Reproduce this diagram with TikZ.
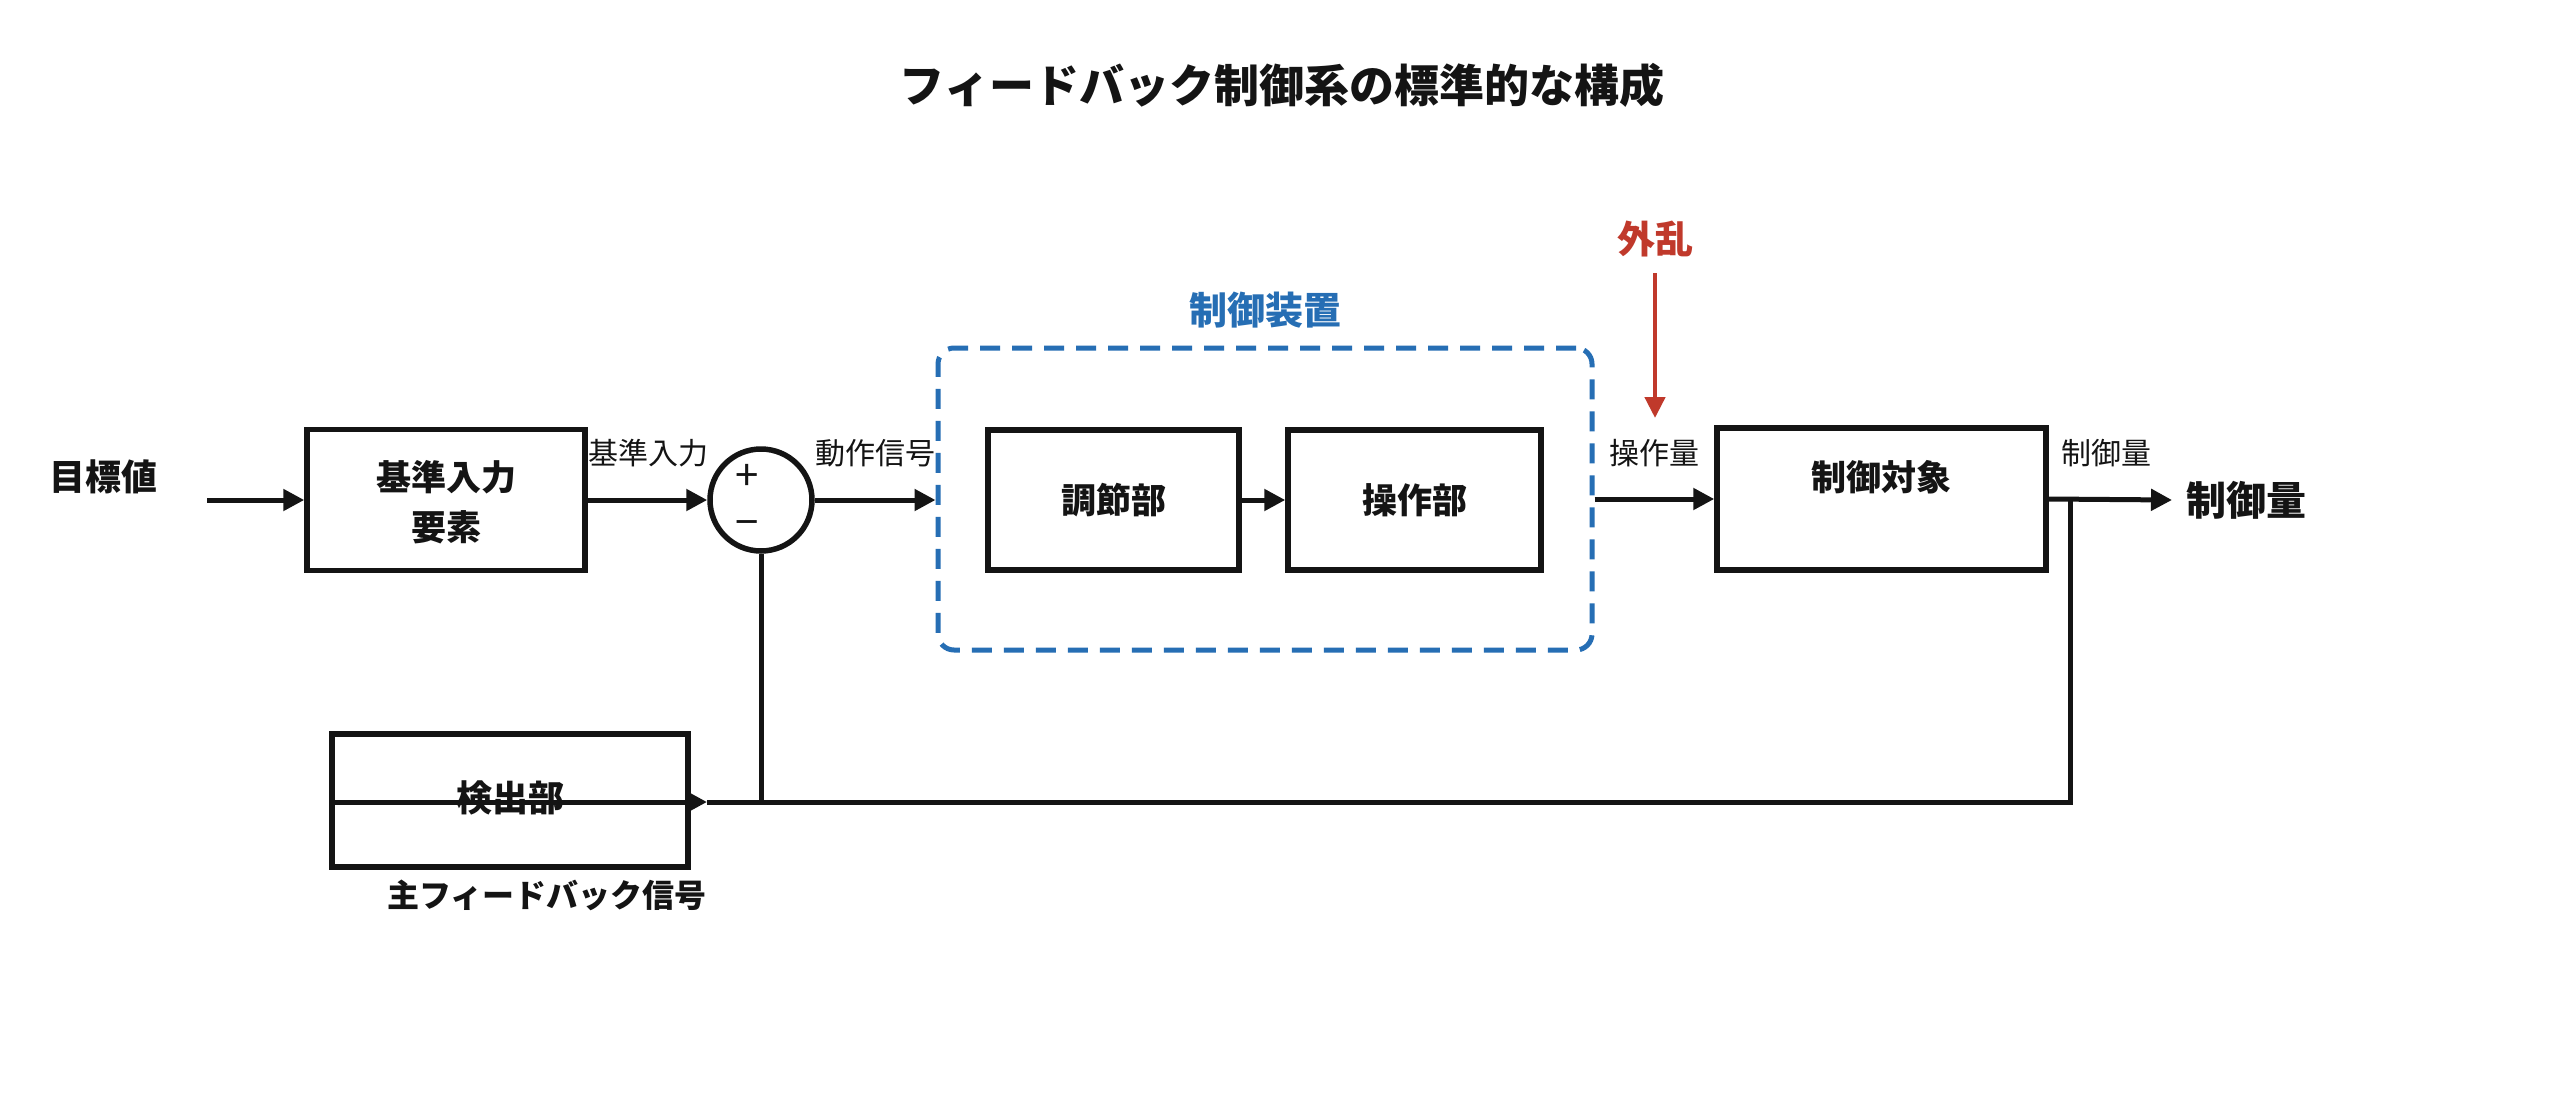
\documentclass[tikz,border=0pt]{standalone}
\usepackage{fontspec}
\setmainfont{Noto Sans CJK JP}
\usetikzlibrary{arrows.meta}
\definecolor{ctlblue}{RGB}{38,110,180}
\definecolor{distred}{RGB}{192,57,43}
\definecolor{ink}{RGB}{20,20,20}
\begin{document}
\begin{tikzpicture}[x=1pt,y=-1pt,
  blk/.style={draw=ink,line width=5.5pt,inner sep=0pt,fill=white},
  btxt/.style={inner sep=0pt,font=\fontsize{35}{50}\selectfont\bfseries,text=ink,align=center},
  lbl/.style={inner sep=0pt,font=\fontsize{30}{36}\selectfont,text=ink},
  conn/.style={draw=ink,line width=5pt},
  arr/.style={conn,-{Triangle[length=21pt,width=21pt]}},
  rarr/.style={draw=distred,line width=4.5pt,-{Triangle[length=21pt,width=20pt]}}]
\useasboundingbox (0,0) rectangle (2560,1100);
\fill[white] (0,0) rectangle (2560,1100);
% title
\node[inner sep=0pt,font=\fontsize{45}{54}\selectfont\bfseries,text=ink] (title) at (1282,85) {フィードバック制御系の標準的な構成};
% controller dashed group
\node[draw=ctlblue,line width=5pt,rounded corners=16pt,dash pattern=on 20pt off 12pt,minimum width=654pt,minimum height=302pt,inner sep=0pt] (ctl) at (1265,499) {};
\node[inner sep=0pt,font=\fontsize{38}{44}\selectfont\bfseries,text=ctlblue] (ctllbl) at (1265,310) {制御装置};
% blocks
\node[blk,minimum width=278pt,minimum height=141pt] (ref) at (446,500) {};
\node[btxt] (reftxt) at (446,502) {基準入力\\要素};
\node[draw=ink,line width=5.5pt,circle,minimum size=102pt,inner sep=0pt] (sum) at (761,500) {};
\node[inner sep=0pt,font=\fontsize{42}{44}\selectfont,text=ink] (plus) at (747,477) {+};
\node[inner sep=0pt,font=\fontsize{42}{44}\selectfont,text=ink] (minus) at (747,529) {−};
\node[blk,minimum width=251pt,minimum height=140pt] (adj) at (1113.5,500) {};
\node[btxt] (adjtxt) at (1113.5,500) {調節部};
\node[blk,minimum width=253pt,minimum height=140pt] (ope) at (1414.5,500) {};
\node[btxt] (opetxt) at (1414.5,500) {操作部};
\node[blk,minimum width=329pt,minimum height=142pt] (plant) at (1881.5,499) {};
\node[btxt] (planttxt) at (1881.5,477) {制御対象};
\node[blk,minimum width=356pt,minimum height=133pt] (det) at (510,800.5) {};
% outer labels
\node[btxt,font=\fontsize{36}{50}\selectfont\bfseries] (target) at (103,477) {目標値};
\node[inner sep=0pt,font=\fontsize{40}{46}\selectfont\bfseries,text=ink,anchor=west] (output) at (2186,500) {制御量};
\node[lbl] (l1) at (648,453) {基準入力};
\node[lbl] (l2) at (875,453) {動作信号};
\node[lbl] (l3) at (1654,453) {操作量};
\node[lbl] (l4) at (2106,453) {制御量};
\node[inner sep=0pt,font=\fontsize{38}{44}\selectfont\bfseries,text=distred] (dist) at (1655,239) {外乱};
\node[inner sep=0pt,font=\fontsize{32}{38}\selectfont\bfseries,text=ink] (fbl) at (547,895) {主フィードバック信号};
% coordinates
\coordinate (in) at (207,500);
\coordinate (outtip) at (2172,500);
\coordinate (br) at (2070,500);
\coordinate (brd) at (2070,802);
\coordinate (fbtip) at (707,802);
\coordinate (dtop) at (1655,273);
\coordinate (dtip) at (1655,418);
% connectors
\draw[arr] (in) -- (ref.west);
\draw[arr] (ref.east) -- (sum.west);
\draw[arr] (sum.east) -- (sum.east -| ctl.west);
\draw[arr] (adj.east) -- (ope.west);
\draw[arr] (ctl.east) -- (plant.west);
\draw[arr] (plant.east) -- (outtip);
\draw[rarr] (dtop) -- (dtip);
\draw[conn] (br) -- (brd) -- (fbtip);
\draw[arr] (det.west |- fbtip) -- (fbtip);
\draw[conn] (sum.south) -- (sum.south |- brd);
\node[btxt,font=\fontsize{36}{50}\selectfont\bfseries] (dettxt) at (510,798) {検出部};
\end{tikzpicture}
\end{document}
